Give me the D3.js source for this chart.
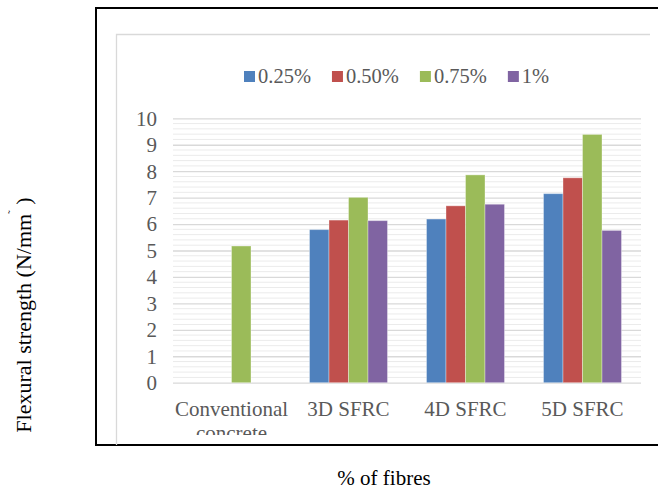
<!DOCTYPE html>
<html>
<head>
<meta charset="utf-8">
<script src="https://cdn.jsdelivr.net/npm/d3@7"></script>
<style>
  html, body { margin: 0; padding: 0; background: #fff; }
  svg { display: block; }
  svg text { font-family: "Liberation Serif", "Times New Roman", Times, "DejaVu Serif", serif !important; }
</style>
</head>
<body>
<svg id="chart" width="658" height="491" font-family="Liberation Serif"></svg>
<script>
const categories = ["Conventional concrete", "3D SFRC", "4D SFRC", "5D SFRC"];
const seriesNames = ["0.25%", "0.50%", "0.75%", "1%"];
const values025 = [null, 5.79, 6.19, 7.15];
const values050 = [null, 6.15, 6.69, 7.75];
const values075 = [5.17, 7.01, 7.86, 9.39];
const values100 = [null, 6.13, 6.75, 5.76];
const seriesColors = ["#4F81BD", "#C0504D", "#9BBB59", "#8064A2"];
const yTicks = [0, 1, 2, 3, 4, 5, 6, 7, 8, 9, 10];
const yTitle = "Flexural strength (N/mm";
const xTitle = "% of fibres";

const seriesValues = [values025, values050, values075, values100];
const FONT = "Liberation Serif";

const svg = d3.select("#chart");

// outer black frame (right side extends beyond the picture)
svg.append("rect")
  .attr("x", 96).attr("y", 8).attr("width", 620).attr("height", 437)
  .attr("fill", "none").attr("stroke", "#000").attr("stroke-width", 2);

// inner chart-area light border (top + left)
svg.append("path")
  .attr("d", "M116.5,445 V34.5 H650")
  .attr("fill", "none").attr("stroke", "#d9d9d9").attr("stroke-width", 1.3);

const plot = { left: 173, right: 641, top: 118.3, bottom: 382.7 };

const y = d3.scaleLinear().domain([0, 10]).range([plot.bottom, plot.top]);
const x0 = d3.scaleBand().domain(categories).range([plot.left, plot.right]).paddingInner(0).paddingOuter(0);
const x1 = d3.scaleBand().domain(seriesNames).range([0, x0.bandwidth()]).paddingInner(0).paddingOuter(1);

// minor gridlines
svg.append("g")
  .selectAll("line")
  .data(d3.range(1, 50).map(i => i * 0.2).filter(v => Math.abs(v - Math.round(v)) > 0.01))
  .join("line")
  .attr("x1", plot.left).attr("x2", plot.right)
  .attr("y1", d => y(d)).attr("y2", d => y(d))
  .attr("stroke", "#ebebeb").attr("stroke-width", 1);

// major gridlines
svg.append("g")
  .attr("transform", `translate(${plot.left},0)`)
  .call(d3.axisLeft(y).tickValues(yTicks).tickSize(-(plot.right - plot.left)).tickFormat(""))
  .call(g => g.select(".domain").remove())
  .call(g => g.selectAll("line").attr("stroke", "#d9d9d9").attr("stroke-width", 1.3));

// y tick labels
svg.append("g")
  .attr("transform", `translate(157,0)`)
  .call(d3.axisLeft(y).tickValues(yTicks).tickSize(0).tickPadding(0).tickFormat(d3.format("d")))
  .attr("font-family", FONT)
  .call(g => g.select(".domain").remove())
  .call(g => g.selectAll("text")
    .attr("font-family", FONT)
    .attr("font-size", 21).attr("fill", "#595959").attr("dy", "0.33em"));

// bars
const groups = svg.append("g").selectAll("g")
  .data(categories)
  .join("g")
  .attr("transform", d => `translate(${x0(d)},0)`);

groups.selectAll("rect")
  .data((c, ci) => seriesNames.map((s, si) => ({ s, si, v: seriesValues[si][ci] })).filter(d => d.v != null))
  .join("rect")
  .attr("x", d => x1(d.s))
  .attr("width", x1.bandwidth())
  .attr("y", d => y(d.v))
  .attr("height", d => y(0) - y(d.v))
  .attr("fill", d => seriesColors[d.si])
  .attr("stroke", "rgba(255,255,255,0.35)")
  .attr("stroke-width", 1);

// category labels (clipped like the original)
svg.append("defs").append("clipPath").attr("id", "catclip")
  .append("rect").attr("x", 100).attr("y", 390).attr("width", 560).attr("height", 45);

const catG = svg.append("g").attr("clip-path", "url(#catclip)");
catG.selectAll("text")
  .data(categories)
  .join("text")
  .attr("x", d => x0(d) + x0.bandwidth() / 2)
  .attr("y", 415.5)
  .attr("text-anchor", "middle")
  .attr("font-family", FONT)
  .attr("font-size", 21)
  .attr("fill", "#595959")
  .each(function (d) {
    const t = d3.select(this);
    const cx = x0(d) + x0.bandwidth() / 2;
    if (d === "Conventional concrete") {
      const words = d.split(" ");
      t.append("tspan").attr("x", cx).text(words[0]);
      t.append("tspan").attr("x", cx).attr("dy", 24).text(words[1]);
    } else {
      t.text(d);
    }
  });

// legend
const legend = svg.append("g");
let lx = 244;
seriesNames.forEach((name, i) => {
  legend.append("rect")
    .attr("x", lx).attr("y", 71).attr("width", 11).attr("height", 11)
    .attr("fill", seriesColors[i]);
  const t = legend.append("text")
    .attr("x", lx + 14).attr("y", 82.5)
    .attr("font-family", FONT)
    .attr("font-size", 20.5).attr("fill", "#595959")
    .text(name);
  lx += 11 + 3 + t.node().getComputedTextLength() + 21;
});

// y axis title
const yt = svg.append("text")
  .attr("transform", "translate(31,315) rotate(-90)")
  .attr("text-anchor", "middle")
  .attr("font-family", FONT)
  .attr("font-size", 22)
  .attr("fill", "#000");
yt.append("tspan").text(yTitle);
yt.append("tspan").attr("font-size", 11).attr("dy", -15).text("˜");
yt.append("tspan").attr("dy", 15).text(" )");

// x axis title
svg.append("text")
  .attr("x", 384).attr("y", 485)
  .attr("text-anchor", "middle")
  .attr("font-family", FONT)
  .attr("font-size", 21)
  .attr("fill", "#000")
  .text(xTitle);
</script>
</body>
</html>
